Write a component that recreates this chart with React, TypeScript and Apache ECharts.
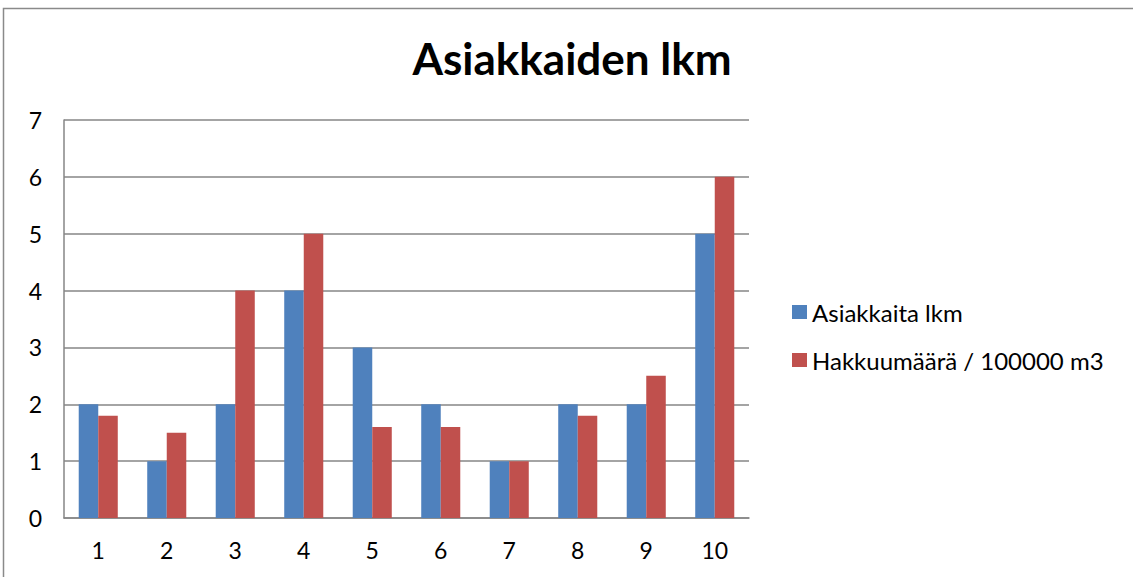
import React, { useEffect, useRef } from "react";
import * as echarts from "echarts";

const categories = ["1", "2", "3", "4", "5", "6", "7", "8", "9", "10"];
const asiakkaita = [2, 1, 2, 4, 3, 2, 1, 2, 2, 5];
const hakkuumaara = [1.8, 1.5, 4, 5, 1.6, 1.6, 1, 1.8, 2.5, 6];
const yTicks = { min: 0, max: 7, interval: 1 };

export default function App() {
  const ref = useRef<HTMLDivElement>(null);
  useEffect(() => {
    if (!ref.current) return;
    const chart = echarts.init(ref.current, null, { renderer: "svg" });
    const font = "Lato";
    chart.setOption({
      animation: false,
      backgroundColor: "#ffffff",
      title: {
        text: "Asiakkaiden lkm",
        left: 572,
        top: 36,
        padding: 0,
        textAlign: "center",
        textStyle: { fontFamily: font, fontWeight: "bold", fontSize: 44, color: "#000" },
      },
      legend: {
        orient: "vertical",
        left: 792,
        top: 299,
        padding: 0,
        itemWidth: 15,
        itemHeight: 14,
        itemGap: 22,
        icon: "rect",
        textStyle: { fontFamily: font, fontSize: 24, color: "#000", lineHeight: 26 },
        data: ["Asiakkaita lkm", "Hakkuumäärä / 100000 m3"],
      },
      grid: { left: 64, top: 120, right: 384, bottom: 59, containLabel: false },
      xAxis: {
        type: "category",
        data: categories,
        axisLine: { show: true, lineStyle: { color: "#868686", width: 1.5 } },
        axisTick: { show: false },
        axisLabel: { fontFamily: font, fontSize: 23, color: "#000", margin: 20 },
      },
      yAxis: {
        type: "value",
        min: yTicks.min,
        max: yTicks.max,
        interval: yTicks.interval,
        axisLine: { show: true, lineStyle: { color: "#868686", width: 1.5 } },
        axisTick: { show: false },
        splitLine: { show: true, lineStyle: { color: "#868686", width: 1.5 } },
        axisLabel: { fontFamily: font, fontSize: 23, color: "#000", margin: 22 },
      },
      series: [
        {
          name: "Asiakkaita lkm",
          type: "bar",
          data: asiakkaita,
          barGap: "0%",
          barCategoryGap: "43%",
          itemStyle: { color: "#4F81BD" },
        },
        {
          name: "Hakkuumäärä / 100000 m3",
          type: "bar",
          data: hakkuumaara,
          barGap: "0%",
          barCategoryGap: "43%",
          itemStyle: { color: "#C0504D" },
        },
      ],
      graphic: [
        {
          type: "rect",
          shape: { x: 3.5, y: 8.5, width: 1300, height: 700 },
          style: { fill: "none", stroke: "#8a8a8a", lineWidth: 1.5 },
          silent: true,
        },
      ],
    });
    return () => chart.dispose();
  }, []);
  return (
    <div
      ref={ref}
      style={{ position: "fixed", left: 0, top: 0, width: 1133, height: 577 }}
    />
  );
}
